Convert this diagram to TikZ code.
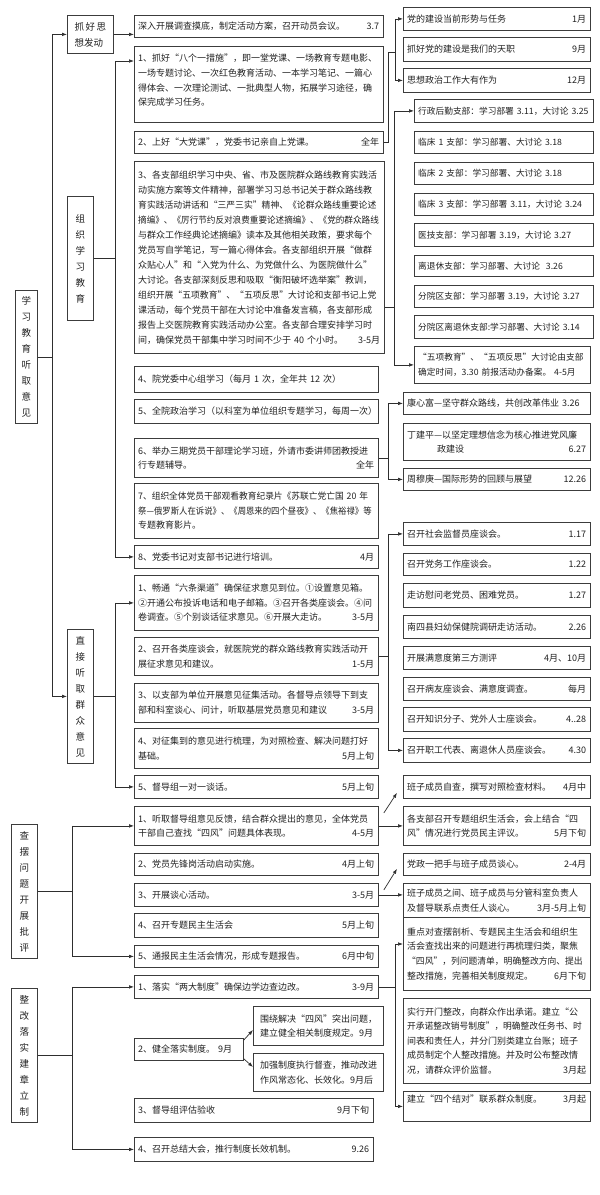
\documentclass[tikz,border=0pt]{standalone}
\usepackage{fontspec}
\usepackage{graphicx}
\usepackage{newunicodechar}
\setmainfont{Noto Sans CJK SC}
\usetikzlibrary{arrows.meta}
\newunicodechar{“}{\makebox[1em][r]{\symbol{"201C}}}
\newunicodechar{”}{\makebox[1em][l]{\symbol{"201D}}}
\definecolor{bc}{HTML}{3C3C3C}
\definecolor{lc}{HTML}{2E2E2E}
\definecolor{tc}{HTML}{222222}
\newcommand\fsA{\fontsize{9}{14.6}\selectfont}
\newcommand\fsS{\fontsize{8.7}{14}\selectfont}
\newcommand\fsV{\fontsize{9.5}{16}\selectfont}
\newcommand\sqz[2]{\scalebox{#1}[1]{#2}}
% centred text box: name, x1, y1, x2, y2, text
\newcommand\bxc[6]{%
  \pgfmathsetmacro\myBW{#4-#2}%
  \pgfmathsetmacro\myBH{#5-#3}%
  \pgfmathsetmacro\myTW{#4-#2-8}%
  \node[box,minimum width=\myBW pt,minimum height=\myBH pt,anchor=north west] (#1) at (#2,#3) {};
  \node[txt,text width=\myTW pt,anchor=west] (#1t) at ([xshift=4pt]#1.west) {#6};%
}
% top aligned text box: name, x1, y1, x2, y2, text, top offset
\newcommand\bxt[7]{%
  \pgfmathsetmacro\myBW{#4-#2}%
  \pgfmathsetmacro\myBH{#5-#3}%
  \pgfmathsetmacro\myTW{#4-#2-8}%
  \node[box,minimum width=\myBW pt,minimum height=\myBH pt,anchor=north west] (#1) at (#2,#3) {};
  \node[txt,text width=\myTW pt,anchor=north west] (#1t) at ([xshift=4pt,yshift=-#7pt]#1.north west) {#6};%
}
% vertical title box: name, x1, y1, x2, y2, text
\newcommand\bxv[6]{%
  \pgfmathsetmacro\myBW{#4-#2}%
  \pgfmathsetmacro\myBH{#5-#3}%
  \node[box,minimum width=\myBW pt,minimum height=\myBH pt,anchor=north west,align=center,font=\fsV,text=tc] (#1) at (#2,#3) {#6};%
}
\tikzset{
  box/.style={draw=bc,line width=0.8pt,inner sep=0pt,fill=white},
  txt/.style={inner sep=0pt,align=left,font=\fsA,text=tc},
  ln/.style={draw=lc,line width=0.7pt},
  arr/.style={ln,-{Latex[length=5pt,width=3.6pt]}},
}
\begin{document}
\begin{tikzpicture}[x=1pt,y=-1pt]
\useasboundingbox (0,0) rectangle (600,1195);
\fill[white] (0,0) rectangle (600,1195);

% ---------- left titles ----------
\bxv{L1}{15}{290}{37}{423}{学\\习\\教\\育\\听\\取\\意\\见}
\bxv{G}{67}{196}{93}{320}{组\\织\\学\\习\\教\\育}
\bxv{B}{67}{629}{93}{763}{直\\接\\听\\取\\群\\众\\意\\见}
\bxv{C0}{11}{824}{37}{958}{查\\摆\\问\\题\\开\\展\\批\\评}
\bxv{D0}{11}{988}{37}{1122}{整\\改\\落\\实\\建\\章\\立\\制}
\node[box,minimum width=46pt,minimum height=38pt,anchor=north west,align=left,font=\fontsize{9.5}{16}\selectfont,text=tc] (A0) at (67,15) {抓\hspace{1.6pt}好\hspace{1.6pt}思\\想发动};

% ---------- middle column ----------
\bxc{A00}{134}{15}{383}{37}{深入开展调查摸底，制定活动方案，召开动员会议。\hfill 3.7}
\bxt{A1}{134}{46}{383}{122}{1、抓好“八个一措施”，即一堂党课、一场教育专题电影、\\一场专题讨论、一次红色教育活动、一本学习笔记、一篇心\\得体会、一次理论测试、一批典型人物，拓展学习途径，确\\保完成学习任务。}{8}
\bxc{A2}{134}{131}{383}{153}{2、上好“大党课”，党委书记亲自上党课。\hfill 全年}
\bxc{A3}{134}{161}{384}{353}{\fontsize{9}{15}\selectfont 3、各支部组织学习中央、省、市及医院群众路线教育实践活\\动实施方案等文件精神，部署学习习总书记关于群众路线教\\\sqz{0.98}{育实践活动讲话和“三严三实”精神、《论群众路线重要论述}\\\sqz{0.955}{摘编》、《厉行节约反对浪费重要论述摘编》、《党的群众路线}\\与群众工作经典论述摘编》读本及其他相关政策，要求每个\\党员写自学笔记，写一篇心得体会。各支部组织开展“做群\\众贴心人”和“入党为什么、为党做什么、为医院做什么”\\大讨论。各支部深刻反思和吸取“衡阳破坏选举案”教训，\\\sqz{0.98}{组织开展“五项教育”、“五项反思”大讨论和支部书记上党}\\课活动，每个党员干部在大讨论中准备发言稿，各支部形成\\报告上交医院教育实践活动办公室。各支部合理安排学习时\\间，确保党员干部集中学习时间不少于~40~个小时。\hfill 3-5月}
\bxc{A4}{134}{366}{378}{392}{4、院党委中心组学习（每月~1~次，全年共~12~次）}
\bxc{A5}{134}{399}{378}{423}{5、全院政治学习（以科室为单位组织专题学习，每周一次）}
\bxc{A6}{134}{438}{378}{477}{6、举办三期党员干部理论学习班，外请市委讲师团教授进\\行专题辅导。\hfill 全年}
\bxc{A7}{134}{483}{378}{538}{\sqz{0.97}{7、组织全体党员干部观看教育纪录片《苏联亡党亡国~20~年}\\\sqz{0.93}{祭—俄罗斯人在诉说》、《周恩来的四个昼夜》、《焦裕禄》等}\\专题教育影片。}
\bxc{A8}{134}{545}{378}{568}{8、党委书记对支部书记进行培训。\hfill 4月}

\bxc{B1}{134}{575}{378}{630}{1、畅通“六条渠道”确保征求意见到位。①设置意见箱。\\②开通公布投诉电话和电子邮箱。③召开各类座谈会。④问\\卷调查。⑤个别谈话征求意见。⑥开展大走访。\hfill 3-5月}
\bxc{B2}{134}{637}{378}{675}{2、召开各类座谈会，就医院党的群众路线教育实践活动开\\展征求意见和建议。\hfill 1-5月}
\bxc{B3}{134}{683}{378}{722}{3、以支部为单位开展意见征集活动。各督导点领导下到支\\部和科室谈心、问计，听取基层党员意见和建议\hfill 3-5月}
\bxc{B4}{134}{728}{378}{768}{4、对征集到的意见进行梳理，为对照检查、解决问题打好\\基础。\hfill 5月上旬}
\bxc{B5}{134}{775}{378}{798}{5、督导组一对一谈话。\hfill 5月上旬}

\bxc{C1}{134}{806}{378}{845}{1、听取督导组意见反馈，结合群众提出的意见，全体党员\\干部自己查找“四风”问题具体表现。\hfill 4-5月}
\bxc{C2}{134}{853}{378}{875}{2、党员先锋岗活动启动实施。\hfill 4月上旬}
\bxc{C3}{134}{883}{378}{906}{3、开展谈心活动。\hfill 3-5月}
\bxc{C4}{134}{913}{378}{937}{4、召开专题民主生活会\hfill 5月上旬}
\bxc{C5}{134}{945}{378}{967}{5、通报民主生活会情况，形成专题报告。\hfill 6月中旬}

\bxc{D1}{134}{975}{378}{998}{1、落实“两大制度”确保边学边查边改。\hfill 3-9月}
\bxc{D2}{134}{1038}{243}{1060}{2、健全落实制度。~9月}
\bxc{D2a}{253}{1006}{383}{1045}{\hspace*{3pt}围绕解决“四风”突出问题，\\\hspace*{3pt}建立健全相关制度规定。9月}
\bxc{D2b}{253}{1053}{383}{1091}{\hspace*{3pt}加强制度执行督查，推动改进\\\hspace*{3pt}作风常态化、长效化。9月后}
\bxc{D3}{134}{1098}{373}{1122}{3、督导组评估验收\hfill 9月下旬}
\bxc{D4}{134}{1137}{373}{1161}{4、召开总结大会，推行制度长效机制。\hfill 9.26}

% ---------- right column ----------
\bxc{R1}{403}{7}{590}{30}{党的建设当前形势与任务\hfill 1月}
\bxc{R2}{403}{37}{590}{61}{抓好党的建设是我们的天职\hfill 9月}
\bxc{R3}{403}{68}{590}{92}{思想政治工作大有作为\hfill 12月}

\bxc{S1}{414}{99}{593}{122}{\fsS 行政后勤支部：学习部署~3.11，大讨论~3.25}
\bxc{S2}{414}{131}{593}{153}{\fsS 临床~1~支部：学习部署、大讨论~3.18}
\bxc{S3}{414}{162}{593}{184}{\fsS 临床~2~支部：学习部署、大讨论~3.18}
\bxc{S4}{414}{193}{593}{215}{\fsS 临床~3~支部：学习部署~3.11，大讨论~3.24}
\bxc{S5}{414}{223}{593}{246}{\fsS 医技支部：学习部署~3.19，大讨论~3.27}
\bxc{S6}{414}{255}{593}{276}{\fsS 离退休支部：学习部署、大讨论\hspace{6pt}3.26}
\bxc{S7}{414}{285}{593}{307}{\fsS 分院区支部：学习部署~3.19，大讨论~3.27}
\bxc{S8}{414}{315}{593}{338}{\fsS 分院区离退休支部:学习部署、大讨论~3.14}
\bxc{S9}{414}{346}{590}{383}{\fsS “五项教育”、“五项反思”大讨论由支部\\确定时间，3.30~前报活动办备案。~4-5月}

\bxc{K1}{403}{392}{590}{414}{康心富—坚守群众路线，共创改革伟业~3.26}
\bxc{K2}{403}{423}{590}{460}{丁建平—以坚定理想信念为核心推进党风廉\\\hspace*{30pt}政建设\hfill 6.27}
\bxc{K3}{403}{468}{590}{490}{周穆庚—国际形势的回顾与展望\hfill 12.26}

\bxc{Q1}{403}{522}{590}{545}{召开社会监督员座谈会。\hfill 1.17}
\bxc{Q2}{403}{553}{590}{575}{召开党务工作座谈会。\hfill 1.22}
\bxc{Q3}{403}{583}{590}{607}{走访慰问老党员、困难党员。\hfill 1.27}
\bxc{Q4}{403}{615}{590}{638}{南四县妇幼保健院调研走访活动。\hfill 2.26}
\bxc{Q5}{403}{646}{590}{669}{开展满意度第三方测评\hfill 4月、10月}
\bxc{Q6}{403}{677}{590}{700}{召开病友座谈会、满意度调查。\hfill 每月}
\bxc{Q7}{403}{707}{590}{731}{召开知识分子、党外人士座谈会。\hfill 4..28}
\bxc{Q8}{403}{738}{590}{762}{召开职工代表、离退休人员座谈会。\hfill 4.30}

\bxc{P1}{403}{775}{590}{798}{班子成员自查，撰写对照检查材料。\hfill 4月中}
\bxc{P2}{403}{806}{590}{845}{各支部召开专题组织生活会，会上结合“四\\风”情况进行党员民主评议。\hfill 5月下旬}
\bxc{P3}{403}{853}{590}{875}{党政一把手与班子成员谈心。\hfill 2-4月}
\bxc{P4}{403}{883}{590}{917}{班子成员之间、班子成员与分管科室负责人\\及督导联系点责任人谈心。\hfill 3月-5月上旬}
\bxc{Z1}{403}{917}{590}{990}{重点对查摆剖析、专题民主生活会和组织生\\活会查找出来的问题进行再梳理归类，聚焦\\\sqz{0.975}{“四风”，列问题清单，明确整改方向、提出}\\整改措施，完善相关制度规定。\hfill 6月下旬}
\bxc{Z2}{403}{998}{590}{1083}{实行开门整改，向群众作出承诺。建立“公\\\sqz{0.97}{开承诺整改销号制度”，明确整改任务书、时}\\间表和责任人，并分门别类建立台账；班子\\成员制定个人整改措施。并及时公布整改情\\况，请群众评价监督。\hfill 3月起}
\bxt{Z3}{403}{1091}{590}{1121}{建立“四个结对”联系群众制度。\hfill 3月起}{4}

% ---------- trunk coordinates ----------
\coordinate (xm) at (52,0);
\coordinate (xg) at (115,0);
\coordinate (xc) at (72,0);
\coordinate (xr) at (388,0);
\coordinate (xs) at (394,0);
\coordinate (xz) at (395,0);
\coordinate (rb) at (395,52);

% main trunk
\draw[ln] (L1.east) -- (xm |- L1.east);
\draw[ln] (xm |- A0.west) -- (xm |- B.west);
\draw[arr] (xm |- A0.west) -- (A0.west);
\draw[arr] (xm |- B.west) -- (B.west);
\draw[arr] (A0.east) -- (A0.east -| A00.west);

% 组织学习教育
\coordinate (a1in) at ([yshift=-15pt]A1.north west);
\draw[ln] (G.east) -- (xg |- G.east);
\draw[ln] (xg |- a1in) -- (xg |- A8.west);
\draw[arr] (xg |- a1in) -- (a1in);
\draw[arr] (xg |- A8.west) -- (A8.west);

% 直接听取群众意见
\draw[ln] (B.east) -- (xg |- B.east);
\draw[ln] (xg |- B1.west) -- (xg |- B5.west);
\draw[arr] (xg |- B1.west) -- (B1.west);
\draw[arr] (xg |- B5.west) -- (B5.west);

% 查摆
\draw[ln] (C0.east) -- (xc |- C0.east);
\draw[ln] (xc |- C1.west) -- (xc |- C5.west);
\draw[arr] (xc |- C1.west) -- (C1.west);
\draw[arr] (xc |- C5.west) -- (C5.west);

% 整改
\draw[ln] (D0.east) -- (xc |- D0.east);
\draw[ln] (xc |- D1.west) -- (xc |- D4.west);
\draw[arr] (xc |- D1.west) -- (D1.west);
\draw[arr] (xc |- D4.west) -- (D4.west);

% 大党课 -> R
\draw[ln] (A2.east) -| (xr |- rb) -- (rb);
\draw[ln] (rb |- R1.west) -- (rb |- R3.west);
\draw[arr] (rb |- R1.west) -- (R1.west);
\draw[arr] (rb |- R3.west) -- (R3.west);

% box 3 -> S
\coordinate (a3out) at ([yshift=-50pt]A3.east);
\draw[ln] (a3out) -- (xs |- a3out);
\draw[ln] (xs |- S1.west) -- (xs |- S9.west);
\draw[arr] (xs |- S1.west) -- (S1.west);
\draw[arr] (xs |- S9.west) -- (S9.west);

% box 6 -> K
\draw[ln] (A6.east) -- (xr |- A6.east);
\draw[ln] (xr |- K1.west) -- (xr |- K3.west);
\draw[arr] (xr |- K1.west) -- (K1.west);
\draw[arr] (xr |- K3.west) -- (K3.west);

% B2 -> Q
\draw[ln] (B2.east) -- (xr |- B2.east);
\draw[ln] (xr |- Q1.west) -- (xr |- Q8.west);
\draw[arr] (xr |- Q1.west) -- (Q1.west);
\draw[arr] (xr |- Q8.west) -- (Q8.west);

% 查摆 -> P
\draw[arr] ([xshift=5pt,yshift=-7pt]C1.north east) -- ([xshift=-6pt,yshift=6pt]P1.south west);
\draw[arr] (C1.east) -- (C1.east -| P2.west);
\draw[arr] ([xshift=5pt,yshift=-7pt]C3.north east) -- ([xshift=-6pt,yshift=7pt]P3.south west);
\draw[arr] (C3.east) -- (C3.east -| P4.west);

% 整改 1 -> Z
\coordinate (z1in) at ([yshift=-27pt]Z1.north west);
\draw[ln] (D1.east) -- (xz |- D1.east);
\draw[ln] (xz |- z1in) -- (xz |- Z3.west);
\draw[arr] (xz |- z1in) -- (z1in);
\draw[arr] (xz |- Z3.west) -- (Z3.west);

% 健全落实制度 -> sub boxes
\draw[arr] ([yshift=-2pt]D2.north east) -- ([yshift=-24pt]D2a.north west);
\draw[arr] ([yshift=2pt]D2.south east) -- ([yshift=-14pt]D2b.north west);
\end{tikzpicture}
\end{document}
